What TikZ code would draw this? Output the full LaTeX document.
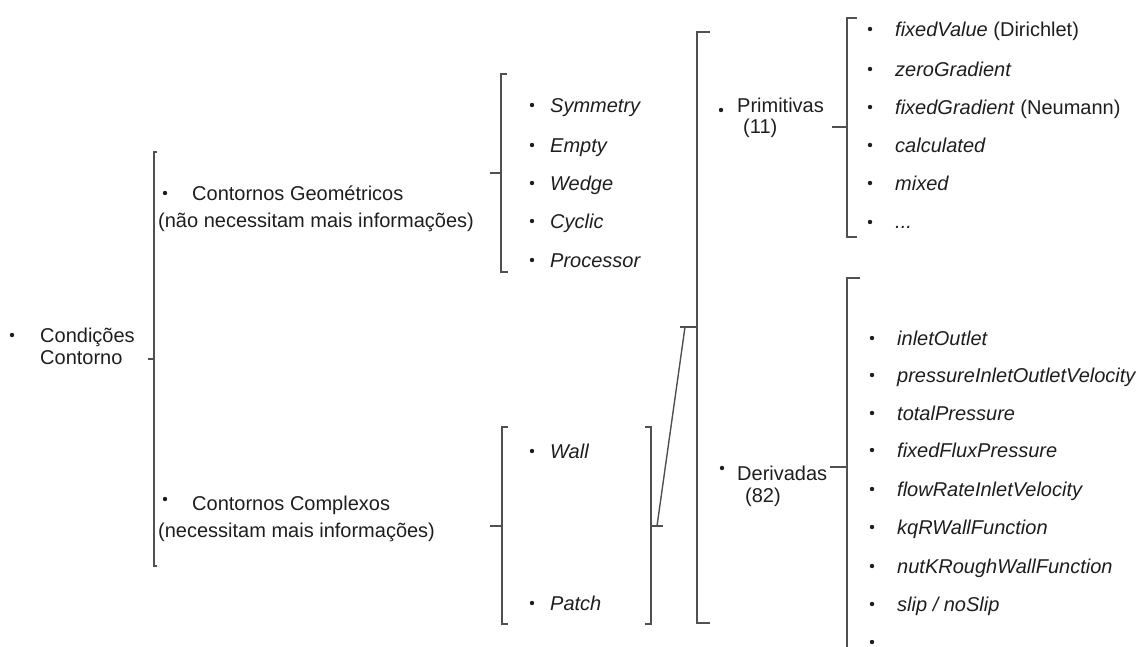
\documentclass[tikz,border=0pt]{standalone}
\usepackage{fontspec}
\setmainfont{Liberation Sans}
\usetikzlibrary{calc}
\definecolor{ink}{HTML}{1E1E1E}
\definecolor{rule}{HTML}{505050}
\begin{document}
\begin{tikzpicture}[x=1pt,y=-1pt,
  lbl/.style={inner sep=0pt, anchor=base west, text=ink, font=\fontsize{20}{22}\selectfont},
  itm/.style={lbl, font=\fontsize{20}{22}\selectfont\itshape},
  brk/.style={draw=rule, line width=1.4pt},
  bul/.style={fill=ink}]
\useasboundingbox (0,0) rectangle (1140,646);

% root
\node[lbl] (cc1) at (40,342) {Condições};
\node[lbl] (cc2) at (40,364) {Contorno};
\fill[bul] (12,335) circle (2.2);

% first level
\node[lbl] (geo1) at (192,200) {Contornos Geométricos};
\node[lbl] (geo2) at (158,227) {(não necessitam mais informações)};
\fill[bul] (165,193) circle (2.2);
\node[lbl] (cpx1) at (192,510) {Contornos Complexos};
\node[lbl] (cpx2) at (158,537) {(necessitam mais informações)};
\fill[bul] (165,499) circle (2.2);

% geometric boundaries
\foreach \nm/\txt/\yy in {sym/Symmetry/105, emp/Empty/145, wed/Wedge/183, cyc/Cyclic/221, pro/Processor/260}{
  \node[itm] (\nm) at (550,\yy+7) {\txt};
  \fill[bul] (532,\yy) circle (2.2);
}

% complex boundaries
\node[itm] (wall) at (550,458) {Wall};
\fill[bul] (532,451) circle (2.2);
\node[itm] (patch) at (550,610) {Patch};
\fill[bul] (532,603) circle (2.2);

% primitive / derived
\node[lbl] (prim1) at (737,112) {Primitivas};
\node[lbl] (prim2) at (743,133) {(11)};
\fill[bul] (721,110) circle (2.2);
\node[lbl] (der1) at (737,480) {Derivadas};
\node[lbl] (der2) at (745,502) {(82)};
\fill[bul] (722,468) circle (2.2);

% primitive types
\node[lbl] (p1) at (895,36) {\textit{fixedValue} (Dirichlet)};
\node[itm] (p2) at (895,76) {zeroGradient};
\node[lbl] (p3) at (895,114) {\textit{fixedGradient} (Neumann)};
\node[itm] (p4) at (895,152) {calculated};
\node[itm] (p5) at (895,190) {mixed};
\node[itm] (p6) at (895,228) {...};
\foreach \yy in {29,69,107,145,183,222} \fill[bul] (870,\yy) circle (2.2);

% derived types
\foreach \nm/\txt/\yy in {d1/inletOutlet/338, d2/pressureInletOutletVelocity/375, d3/totalPressure/413,
  d4/fixedFluxPressure/450, d5/flowRateInletVelocity/489, d6/kqRWallFunction/527,
  d7/nutKRoughWallFunction/566}{
  \node[itm] (\nm) at (897,\yy+7) {\txt};
  \fill[bul] (872,\yy) circle (2.2);
}
\node[itm] (d8) at (897,611) {slip / noSlip};
\fill[bul] (872,604) circle (2.2);
\fill[bul] (872,642) circle (2.2);

% brackets
\coordinate (b1m) at (148,359);
\draw[brk] (157,152) -- (154,152) -- (154,566) -- (157,566);
\draw[brk] (b1m) -- (154,359);

\draw[brk] (507,74) -- (501,74) -- (501,272) -- (508,272);
\draw[brk] (490,173) -- (501,173);

\draw[brk] (508,427) -- (502,427) -- (502,624) -- (508,624);
\draw[brk] (490,526) -- (502,526);

\draw[brk] (645,427) -- (651,427) -- (651,624) -- (645,624);
\coordinate (wpR) at (663,526);
\draw[brk] (651,526) -- (wpR);

\coordinate (b4m) at (680,327);
\draw[brk] (710,32) -- (697,32) -- (697,623) -- (710,623);
\draw[brk] (b4m) -- (697,327);

% link from the complex group to the primitive/derived split
\coordinate (lnkA) at (657,526);
\coordinate (lnkB) at (685,327);
\draw[brk] (lnkA) -- (lnkB);

\draw[brk] (857,18) -- (847,18) -- (847,237) -- (857,237);
\draw[brk] (832,127) -- (847,127);

\draw[brk] (860,278) -- (847,278) -- (847,650);
\draw[brk] (830,467) -- (847,467);
\end{tikzpicture}
\end{document}
